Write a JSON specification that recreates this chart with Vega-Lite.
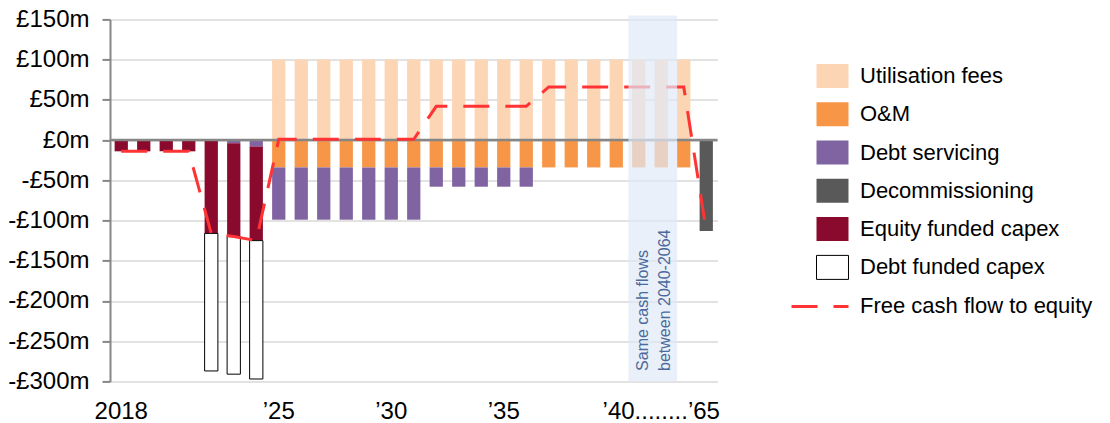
{
  "$schema": "https://vega.github.io/schema/vega-lite/v6.json",
  "width": 607.5,
  "height": 362,
  "autosize": "none",
  "padding": {"left": 110, "top": 19.4, "right": 392.5, "bottom": 41.6},
  "background": "white",
  "config": {
    "view": {"stroke": null},
    "font": "Liberation Sans",
    "axis": {"labelFont": "Liberation Sans", "labelColor": "#000000", "title": null}
  },
  "datasets": {
    "cats": [
      {"cat": "Utilisation fees", "rank": 0},
      {"cat": "O&M", "rank": 1},
      {"cat": "Debt servicing", "rank": 2},
      {"cat": "Decommissioning", "rank": 3},
      {"cat": "Equity funded capex", "rank": 4},
      {"cat": "Debt funded capex", "rank": 5}
    ],
    "bars": [
      {"yr": "2018", "cat": "Equity funded capex", "v": -14},
      {"yr": "2019", "cat": "Equity funded capex", "v": -14},
      {"yr": "2020", "cat": "Equity funded capex", "v": -14},
      {"yr": "2021", "cat": "Equity funded capex", "v": -14},
      {"yr": "2022", "cat": "Equity funded capex", "v": -116},
      {"yr": "2022", "cat": "Debt funded capex", "v": -171},
      {"yr": "2023", "cat": "Debt servicing", "v": -4},
      {"yr": "2023", "cat": "Equity funded capex", "v": -116},
      {"yr": "2023", "cat": "Debt funded capex", "v": -171},
      {"yr": "2024", "cat": "Debt servicing", "v": -8},
      {"yr": "2024", "cat": "Equity funded capex", "v": -117},
      {"yr": "2024", "cat": "Debt funded capex", "v": -172},
      {"yr": "2025", "cat": "Utilisation fees", "v": 100},
      {"yr": "2025", "cat": "O&M", "v": -34},
      {"yr": "2025", "cat": "Debt servicing", "v": -65},
      {"yr": "2026", "cat": "Utilisation fees", "v": 100},
      {"yr": "2026", "cat": "O&M", "v": -34},
      {"yr": "2026", "cat": "Debt servicing", "v": -65},
      {"yr": "2027", "cat": "Utilisation fees", "v": 100},
      {"yr": "2027", "cat": "O&M", "v": -34},
      {"yr": "2027", "cat": "Debt servicing", "v": -65},
      {"yr": "2028", "cat": "Utilisation fees", "v": 100},
      {"yr": "2028", "cat": "O&M", "v": -34},
      {"yr": "2028", "cat": "Debt servicing", "v": -65},
      {"yr": "2029", "cat": "Utilisation fees", "v": 100},
      {"yr": "2029", "cat": "O&M", "v": -34},
      {"yr": "2029", "cat": "Debt servicing", "v": -65},
      {"yr": "2030", "cat": "Utilisation fees", "v": 100},
      {"yr": "2030", "cat": "O&M", "v": -34},
      {"yr": "2030", "cat": "Debt servicing", "v": -65},
      {"yr": "2031", "cat": "Utilisation fees", "v": 100},
      {"yr": "2031", "cat": "O&M", "v": -34},
      {"yr": "2031", "cat": "Debt servicing", "v": -65},
      {"yr": "2032", "cat": "Utilisation fees", "v": 100},
      {"yr": "2032", "cat": "O&M", "v": -34},
      {"yr": "2032", "cat": "Debt servicing", "v": -24},
      {"yr": "2033", "cat": "Utilisation fees", "v": 100},
      {"yr": "2033", "cat": "O&M", "v": -34},
      {"yr": "2033", "cat": "Debt servicing", "v": -24},
      {"yr": "2034", "cat": "Utilisation fees", "v": 100},
      {"yr": "2034", "cat": "O&M", "v": -34},
      {"yr": "2034", "cat": "Debt servicing", "v": -24},
      {"yr": "2035", "cat": "Utilisation fees", "v": 100},
      {"yr": "2035", "cat": "O&M", "v": -34},
      {"yr": "2035", "cat": "Debt servicing", "v": -24},
      {"yr": "2036", "cat": "Utilisation fees", "v": 100},
      {"yr": "2036", "cat": "O&M", "v": -34},
      {"yr": "2036", "cat": "Debt servicing", "v": -24},
      {"yr": "2037", "cat": "Utilisation fees", "v": 100},
      {"yr": "2037", "cat": "O&M", "v": -34},
      {"yr": "2038", "cat": "Utilisation fees", "v": 100},
      {"yr": "2038", "cat": "O&M", "v": -34},
      {"yr": "2039", "cat": "Utilisation fees", "v": 100},
      {"yr": "2039", "cat": "O&M", "v": -34},
      {"yr": "2040", "cat": "Utilisation fees", "v": 100},
      {"yr": "2040", "cat": "O&M", "v": -34},
      {"yr": "gap1", "cat": "Utilisation fees", "v": 100},
      {"yr": "gap1", "cat": "O&M", "v": -34},
      {"yr": "gap2", "cat": "Utilisation fees", "v": 100},
      {"yr": "gap2", "cat": "O&M", "v": -34},
      {"yr": "2064", "cat": "Utilisation fees", "v": 100},
      {"yr": "2064", "cat": "O&M", "v": -34},
      {"yr": "2065", "cat": "Decommissioning", "v": -113}
    ],
    "fcf": [
      {"yr": "2018", "fcf": -14},
      {"yr": "2019", "fcf": -14},
      {"yr": "2020", "fcf": -14},
      {"yr": "2021", "fcf": -14},
      {"yr": "2022", "fcf": -116},
      {"yr": "2023", "fcf": -120},
      {"yr": "2024", "fcf": -125},
      {"yr": "2025", "fcf": 1},
      {"yr": "2026", "fcf": 1},
      {"yr": "2027", "fcf": 1},
      {"yr": "2028", "fcf": 1},
      {"yr": "2029", "fcf": 1},
      {"yr": "2030", "fcf": 1},
      {"yr": "2031", "fcf": 1},
      {"yr": "2032", "fcf": 42},
      {"yr": "2033", "fcf": 42},
      {"yr": "2034", "fcf": 42},
      {"yr": "2035", "fcf": 42},
      {"yr": "2036", "fcf": 42},
      {"yr": "2037", "fcf": 66},
      {"yr": "2038", "fcf": 66},
      {"yr": "2039", "fcf": 66},
      {"yr": "2040", "fcf": 66},
      {"yr": "gap1", "fcf": 66},
      {"yr": "gap2", "fcf": 66},
      {"yr": "2064", "fcf": 66},
      {"yr": "2065", "fcf": -113}
    ]
  },
  "layer": [
    {
      "data": {"name": "bars"},
      "transform": [
        {"lookup": "cat", "from": {"data": {"name": "cats"}, "key": "cat", "fields": ["rank"]}}
      ],
      "mark": {"type": "bar", "strokeWidth": 1},
      "encoding": {
        "x": {
          "field": "yr",
          "type": "nominal",
          "scale": {
            "domain": ["2018", "2019", "2020", "2021", "2022", "2023", "2024", "2025", "2026", "2027", "2028", "2029", "2030", "2031", "2032", "2033", "2034", "2035", "2036", "2037", "2038", "2039", "2040", "gap1", "gap2", "2064", "2065"],
            "paddingInner": 0.41,
            "paddingOuter": 0.205
          },
          "axis": {
            "title": null,
            "labelExpr": "datum.value === '2018' ? '2018' : datum.value === '2025' ? '’25' : datum.value === '2030' ? '’30' : datum.value === '2035' ? '’35' : datum.value === 'gap2' ? '’40........’65' : ''",
            "labelAngle": 0,
            "labelOverlap": false,
            "labelBound": false,
            "labelFlush": false,
            "labelFontSize": 24,
            "labelPadding": 18,
            "labelLimit": 0,
            "domain": false,
            "ticks": false,
            "grid": false
          }
        },
        "y": {
          "field": "v",
          "type": "quantitative",
          "stack": "zero",
          "scale": {"domain": [-300, 150], "nice": false, "zero": true},
          "axis": {
            "title": null,
            "values": [-300, -250, -200, -150, -100, -50, 0, 50, 100, 150],
            "labelExpr": "(datum.value < 0 ? '-£' : '£') + abs(datum.value) + 'm'",
            "labelFontSize": 24,
            "labelPadding": 13,
            "domainColor": "#868686",
            "domainWidth": 2,
            "tickColor": "#868686",
            "tickWidth": 2,
            "tickSize": 8,
            "grid": true,
            "gridColor": "#d9d9d9",
            "gridWidth": 1.5
          }
        },
        "order": {"field": "rank", "type": "quantitative", "sort": "ascending"},
        "color": {
          "field": "cat",
          "type": "nominal",
          "scale": {
            "domain": ["Utilisation fees", "O&M", "Debt servicing", "Decommissioning", "Equity funded capex", "Debt funded capex"],
            "range": ["#fcd5b5", "#f79646", "#8064a2", "#595959", "#8a0a2e", "#ffffff"]
          },
          "legend": {
            "orient": "none",
            "legendX": 710,
            "legendY": 44,
            "direction": "vertical",
            "title": null,
            "padding": 0,
            "symbolType": "M-1.333,-1L1.333,-1L1.333,1L-1.333,1Z",
            "symbolSize": 576,
            "symbolStrokeWidth": 1,
            "labelFont": "Liberation Sans",
            "labelFontSize": 22,
            "labelColor": "#000000",
            "labelOffset": 15,
            "labelLimit": 0,
            "rowPadding": 9.3
          }
        },
        "stroke": {
          "field": "cat",
          "type": "nominal",
          "scale": {
            "domain": ["Utilisation fees", "O&M", "Debt servicing", "Decommissioning", "Equity funded capex", "Debt funded capex"],
            "range": ["transparent", "transparent", "transparent", "transparent", "transparent", "#000000"]
          },
          "legend": {
            "orient": "none",
            "legendX": 710,
            "legendY": 44,
            "direction": "vertical",
            "title": null,
            "padding": 0,
            "symbolType": "M-1.333,-1L1.333,-1L1.333,1L-1.333,1Z",
            "symbolSize": 576,
            "symbolStrokeWidth": 1,
            "labelFont": "Liberation Sans",
            "labelFontSize": 22,
            "labelColor": "#000000",
            "labelOffset": 15,
            "labelLimit": 0,
            "rowPadding": 9.3
          }
        }
      }
    },
    {
      "data": {"values": [{}]},
      "mark": {"type": "rule", "color": "#868686", "strokeWidth": 2.5},
      "encoding": {"y": {"datum": 0}}
    },
    {
      "data": {"name": "fcf"},
      "mark": {"type": "line", "color": "#ff3333", "strokeWidth": 3},
      "encoding": {
        "x": {"field": "yr", "type": "nominal"},
        "y": {"field": "fcf", "type": "quantitative"},
        "order": {"value": null},
        "strokeDash": {
          "datum": "Free cash flow to equity",
          "type": "nominal",
          "scale": {"range": [[26, 16]]},
          "legend": {
            "orient": "none",
            "legendX": 680,
            "legendY": 257,
            "direction": "vertical",
            "title": null,
            "padding": 0,
            "symbolType": "stroke",
            "symbolSize": 3249,
            "symbolStrokeWidth": 3,
            "symbolStrokeColor": "#ff3333",
            "labelFont": "Liberation Sans",
            "labelFontSize": 22,
            "labelColor": "#000000",
            "labelOffset": 10,
            "labelLimit": 0
          }
        }
      }
    },
    {
      "data": {"values": [{}]},
      "mark": {"type": "rect", "color": "#e1eaf6", "opacity": 0.7},
      "encoding": {
        "x": {"datum": "gap1", "bandPosition": -0.28},
        "x2": {"datum": "2064", "bandPosition": 0},
        "y": {"datum": 155},
        "y2": {"datum": -300}
      }
    },
    {
      "data": {"values": [{}]},
      "mark": {
        "type": "text",
        "text": ["Same cash flows", "between 2040-2064"],
        "angle": 270,
        "align": "left",
        "baseline": "middle",
        "dy": 4,
        "font": "Liberation Sans",
        "fontSize": 16,
        "lineHeight": 22,
        "color": "#4b6a9b"
      },
      "encoding": {
        "x": {"datum": "gap1"},
        "y": {"datum": -287}
      }
    }
  ]
}
